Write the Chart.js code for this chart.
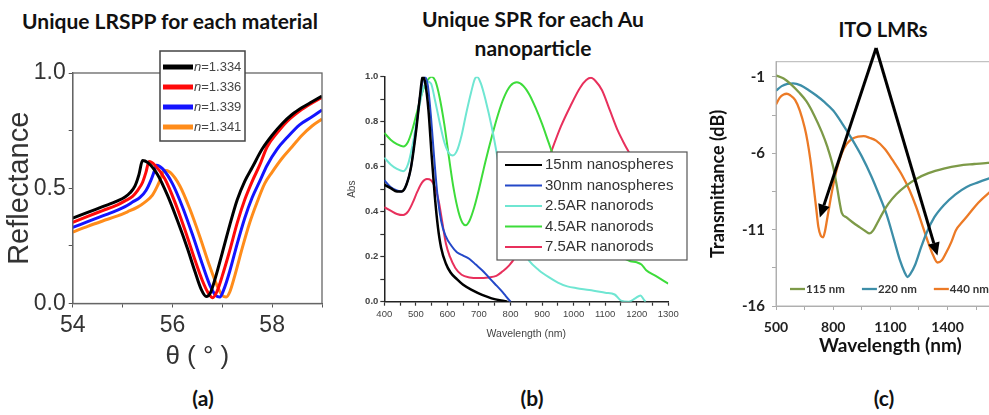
<!DOCTYPE html>
<html>
<head>
<meta charset="utf-8">
<script src="https://cdn.jsdelivr.net/npm/chart.js@4"></script>
<style>
  html, body { margin: 0; padding: 0; background: #fff; }
  body { width: 989px; height: 415px; position: relative; overflow: hidden; }
  canvas { position: absolute; }
  .head {
    position: absolute; transform: translateX(-50%);
    font-family: Lato, "Open Sans", sans-serif; font-weight: 700; font-size: 21px;
    color: #111; text-align: center; white-space: nowrap; line-height: 29px;
  }
</style>
</head>
<body>
<div class="head" style="left:170px; top:6px;">Unique LRSPP for each material</div>
<div class="head" style="left:533px; top:4px;">Unique SPR for each Au<br>nanoparticle</div>
<div class="head" style="left:883px; top:15px; font-size:20px;">ITO LMRs</div>
<div class="head" style="left:203px; top:383px;">(a)</div>
<div class="head" style="left:532px; top:383px;">(b)</div>
<div class="head" style="left:884px; top:383px;">(c)</div>

<canvas id="lrspp" width="335" height="345" style="left:0; top:40px;"></canvas>
<canvas id="spr" width="360" height="320" style="left:330px; top:40px;"></canvas>
<canvas id="lmr" width="340" height="330" style="left:690px; top:40px;"></canvas>

<script>
// ---- (a) LRSPP reflectance vs angle, one curve per refractive index ----
const N_LABELS = ["n=1.334", "n=1.336", "n=1.339", "n=1.341"];
const N_COLORS = ["#000000", "#ff0a0a", "#1414ff", "#ff8c1a"];

const refl1334 = [[54.0,0.370],[54.3,0.395],[54.6,0.420],[54.9,0.445],[55.05,0.462],[55.15,0.480],[55.25,0.510],[55.33,0.560],
  [55.4,0.620],[55.5,0.612],[55.7,0.560],[55.9,0.470],[56.1,0.360],[56.3,0.240],[56.45,0.140],[56.58,0.060],[56.68,0.030],
  [56.76,0.045],[56.86,0.110],[57.0,0.220],[57.15,0.340],[57.3,0.450],[57.45,0.530],[57.6,0.590],[57.8,0.670],[58.0,0.730],
  [58.2,0.780],[58.4,0.820],[58.6,0.850],[58.8,0.875],[59.0,0.900]];
const refl1336 = [[54.0,0.352],[54.3,0.378],[54.6,0.403],[54.9,0.428],[55.05,0.445],[55.2,0.465],[55.3,0.490],[55.4,0.525],
  [55.47,0.570],[55.53,0.616],[55.65,0.600],[55.85,0.540],[56.05,0.440],[56.25,0.320],[56.45,0.190],[56.6,0.100],[56.72,0.045],
  [56.81,0.025],[56.89,0.050],[57.0,0.120],[57.15,0.230],[57.3,0.350],[57.45,0.450],[57.6,0.530],[57.75,0.600],[57.9,0.680],
  [58.1,0.740],[58.3,0.790],[58.55,0.835],[58.8,0.870],[59.0,0.895]];
const refl1339 = [[54.0,0.330],[54.3,0.355],[54.6,0.380],[54.9,0.405],[55.05,0.420],[55.2,0.440],[55.35,0.460],[55.47,0.490],
  [55.57,0.535],[55.63,0.570],[55.68,0.600],[55.8,0.585],[56.0,0.520],[56.2,0.420],[56.4,0.300],[56.6,0.170],[56.75,0.080],
  [56.87,0.035],[56.95,0.028],[57.03,0.060],[57.15,0.140],[57.3,0.260],[57.45,0.370],[57.6,0.460],[57.75,0.530],[57.9,0.600],
  [58.1,0.670],[58.3,0.720],[58.55,0.775],[58.8,0.810],[59.0,0.840]];
const refl1341 = [[54.0,0.310],[54.3,0.335],[54.6,0.358],[54.9,0.380],[55.1,0.398],[55.3,0.418],[55.45,0.440],[55.6,0.470],
  [55.7,0.510],[55.77,0.545],[55.83,0.578],[55.95,0.570],[56.15,0.510],[56.35,0.410],[56.55,0.290],[56.75,0.160],[56.9,0.075],
  [57.0,0.035],[57.08,0.028],[57.15,0.050],[57.25,0.120],[57.4,0.240],[57.55,0.350],[57.7,0.440],[57.85,0.520],[58.0,0.570],
  [58.2,0.630],[58.4,0.680],[58.6,0.730],[58.8,0.770],[59.0,0.800]];

// ---- (b) absorbance spectra of Au nanoparticles ----
const SPR_LABELS = ["15nm nanospheres", "30nm nanospheres", "2.5AR nanorods", "4.5AR nanorods", "7.5AR nanorods"];
const SPR_COLORS = ["#000000", "#2448c8", "#6fe6d2", "#3ddc3a", "#e8305c"];

const abs15Sphere = [[400,0.52],[420,0.505],[440,0.49],[455,0.49],[470,0.52],[485,0.6],[500,0.75],[512,0.9],[522,1.0],
  [530,0.97],[540,0.85],[550,0.65],[560,0.47],[570,0.33],[580,0.24],[595,0.17],[610,0.13],[630,0.1],[650,0.075],[680,0.05],
  [710,0.03],[740,0.015],[770,0.005],[790,0]];
const abs30Sphere = [[400,0.54],[420,0.51],[440,0.495],[455,0.49],[470,0.52],[485,0.6],[500,0.76],[515,0.93],[528,1.0],
  [538,0.96],[548,0.82],[558,0.64],[568,0.48],[580,0.36],[595,0.29],[612,0.25],[630,0.22],[650,0.205],[670,0.19],[690,0.165],
  [710,0.14],[730,0.11],[750,0.08],[770,0.05],[785,0.025],[800,0]];
const abs25Rod = [[400,0.64],[420,0.61],[440,0.59],[460,0.58],[475,0.61],[490,0.7],[505,0.82],[520,0.93],[535,0.98],[548,0.97],
  [560,0.9],[575,0.8],[590,0.71],[605,0.66],[617,0.65],[630,0.67],[645,0.74],[660,0.84],[675,0.93],[687,0.99],[694,1.0],
  [706,0.97],[722,0.89],[740,0.78],[755,0.67],[770,0.55],[790,0.42],[810,0.33],[835,0.24],[860,0.18],[890,0.14],[920,0.11],
  [950,0.085],[980,0.068],[1010,0.06],[1050,0.052],[1100,0.04],[1130,0.032],[1150,0.005],[1175,0.0],[1195,0.015],[1212,0.028],
  [1222,0.01],[1228,0]];
const abs45Rod = [[400,0.75],[420,0.72],[440,0.7],[460,0.69],[475,0.71],[490,0.77],[505,0.85],[520,0.93],[535,0.98],[550,1.0],
  [562,0.98],[575,0.91],[590,0.79],[605,0.64],[620,0.5],[635,0.4],[648,0.35],[658,0.34],[670,0.36],[685,0.42],[700,0.5],
  [720,0.62],[740,0.73],[760,0.83],[780,0.91],[800,0.96],[820,0.975],[840,0.96],[860,0.92],[880,0.86],[900,0.79],[920,0.71],
  [940,0.63],[970,0.52],[1000,0.42],[1040,0.33],[1080,0.27],[1120,0.23],[1150,0.2],[1180,0.18],[1200,0.175],[1215,0.165],
  [1230,0.14],[1260,0.115],[1300,0.08]];
const abs75Rod = [[400,0.42],[420,0.405],[440,0.39],[460,0.385],[475,0.4],[490,0.44],[505,0.49],[520,0.53],[535,0.545],
  [548,0.54],[560,0.51],[572,0.45],[583,0.36],[595,0.26],[608,0.2],[625,0.15],[645,0.12],[670,0.108],[700,0.105],[730,0.108],
  [755,0.115],[775,0.135],[795,0.16],[815,0.2],[840,0.29],[870,0.42],[900,0.55],[930,0.67],[960,0.78],[990,0.87],[1020,0.95],
  [1040,0.985],[1055,0.995],[1070,0.98],[1090,0.94],[1115,0.85],[1140,0.76],[1165,0.69],[1180,0.65],[1200,0.57],[1220,0.48]];

// ---- (c) ITO lossy mode resonances, transmittance in dB ----
const LMR_LABELS = ["115 nm", "220 nm", "440 nm"];
const LMR_COLORS = ["#7d9a48", "#3d8ea8", "#ec7a26"];
const LMR_X_TICKS = [500, 650, 800, 950, 1100, 1250, 1400, 1550, 1700];
const LMR_Y_TICKS = [-16, -13.5, -11, -8.5, -6, -3.5, -1];

const trans115 = [[500,-0.9],[540,-1.1],[580,-1.5],[620,-2.0],[660,-2.6],[700,-3.5],[740,-4.6],[770,-5.6],[800,-6.9],
  [820,-8.2],[835,-9.3],[845,-9.9],[870,-10.2],[900,-10.5],[940,-10.85],[970,-11.1],[990,-11.25],[1010,-11.05],[1030,-10.6],
  [1060,-9.9],[1090,-9.3],[1130,-8.7],[1180,-8.15],[1240,-7.65],[1300,-7.3],[1380,-7.0],[1460,-6.8],[1540,-6.7],[1611,-6.62],
  [1700,-6.55]];
const trans220 = [[500,-1.9],[530,-1.6],[560,-1.45],[590,-1.42],[630,-1.55],[670,-1.85],[710,-2.2],[750,-2.6],[800,-3.2],
  [850,-4.1],[900,-5.1],[950,-6.2],[1000,-7.5],[1040,-8.7],[1080,-10.0],[1120,-11.7],[1150,-13.0],[1175,-13.8],[1190,-14.1],
  [1205,-13.9],[1230,-13.3],[1260,-12.2],[1290,-11.2],[1330,-10.2],[1380,-9.4],[1440,-8.7],[1500,-8.2],[1560,-7.9],
  [1611,-7.67],[1700,-7.3]];
const trans440 = [[500,-2.8],[520,-2.35],[540,-2.15],[556,-2.1],[575,-2.2],[600,-2.5],[625,-3.2],[650,-4.3],[665,-5.2],
  [680,-6.4],[695,-7.9],[710,-9.5],[722,-10.8],[735,-11.4],[747,-11.5],[757,-11.1],[767,-10.4],[782,-9.3],[800,-8.1],
  [820,-7.0],[845,-6.0],[870,-5.4],[900,-5.05],[930,-4.9],[960,-4.88],[990,-4.98],[1025,-5.17],[1070,-5.7],[1112,-6.45],
  [1160,-7.4],[1200,-8.4],[1235,-9.5],[1270,-10.8],[1300,-11.9],[1325,-12.7],[1347,-13.15],[1370,-13.0],[1391,-12.55],
  [1420,-11.8],[1443,-11.05],[1480,-10.45],[1513,-9.96],[1560,-9.25],[1611,-8.65],[1700,-7.8]];

// "ITO LMRs" arrows: common start point and the two resonance dips they point at
const ARROW_APEX = [1025, 0.9];
const ARROW_TIPS = [[730, -10.2], [1347, -12.7]];

Chart.defaults.animation = false;
Chart.defaults.responsive = false;
Chart.defaults.devicePixelRatio = 1;
Chart.defaults.plugins.legend.display = false;
Chart.defaults.plugins.tooltip.enabled = false;

function series(label, pairs, color, width) {
  return {
    label: label,
    data: pairs.map(([x, y]) => ({ x: x, y: y })),
    borderColor: color,
    backgroundColor: color,
    borderWidth: width,
    pointRadius: 0,
    fill: false,
    cubicInterpolationMode: "monotone"
  };
}

// box round the plot area
const framePlugin = {
  id: "frame",
  afterDatasetsDraw(chart, args, opts) {
    const { ctx, chartArea: a } = chart;
    ctx.save();
    ctx.strokeStyle = opts.color;
    ctx.lineWidth = opts.width;
    ctx.strokeRect(a.left, a.top, a.right - a.left, a.bottom - a.top);
    ctx.restore();
  }
};

// legend drawn at a fixed spot, optionally in a white box
const placedLegend = {
  id: "placedLegend",
  afterDraw(chart, args, o) {
    const ctx = chart.ctx;
    ctx.save();
    if (o.box) {
      const b = o.box;
      ctx.fillStyle = "#fff";
      ctx.fillRect(b[0], b[1], b[2] - b[0], b[3] - b[1]);
      ctx.strokeStyle = o.boxColor;
      ctx.lineWidth = o.boxWidth;
      ctx.strokeRect(b[0], b[1], b[2] - b[0], b[3] - b[1]);
    }
    let x = o.x, y = o.y;
    chart.data.datasets.forEach((ds) => {
      ctx.strokeStyle = ds.borderColor;
      ctx.lineWidth = o.lineWidth;
      ctx.beginPath();
      ctx.moveTo(x, y);
      ctx.lineTo(x + o.sample, y);
      ctx.stroke();
      ctx.fillStyle = o.color;
      ctx.textBaseline = "middle";
      let tx = x + o.sample + o.gap;
      let text = ds.label;
      if (o.italicLead) {
        ctx.font = "italic " + o.font;
        ctx.fillText(text[0], tx, y);
        tx += ctx.measureText(text[0]).width;
        text = text.slice(1);
      }
      ctx.font = o.font;
      ctx.fillText(text, tx, y);
      tx += ctx.measureText(text).width;
      if (o.horizontal) x = tx + o.spacing;
      else y += o.rowGap;
    });
    ctx.restore();
  }
};

// arrows drawn in data coordinates
const arrowPlugin = {
  id: "arrows",
  afterDatasetsDraw(chart) {
    const { ctx, scales } = chart;
    const ax = scales.x.getPixelForValue(ARROW_APEX[0]);
    const ay = scales.y.getPixelForValue(ARROW_APEX[1]);
    ctx.save();
    ctx.strokeStyle = "#000";
    ctx.fillStyle = "#000";
    ctx.lineWidth = 3;
    ARROW_TIPS.forEach(([tx, ty]) => {
      const px = scales.x.getPixelForValue(tx);
      const py = scales.y.getPixelForValue(ty);
      const ang = Math.atan2(py - ay, px - ax);
      const head = 13, half = 6;
      const bx = px - head * Math.cos(ang), by = py - head * Math.sin(ang);
      ctx.beginPath();
      ctx.moveTo(ax, ay);
      ctx.lineTo(bx, by);
      ctx.stroke();
      ctx.beginPath();
      ctx.moveTo(px, py);
      ctx.lineTo(bx + half * Math.sin(ang), by - half * Math.cos(ang));
      ctx.lineTo(bx - half * Math.sin(ang), by + half * Math.cos(ang));
      ctx.closePath();
      ctx.fill();
    });
    ctx.restore();
  }
};

// (a)
new Chart(document.getElementById("lrspp"), {
  type: "line",
  data: {
    datasets: [
      series(N_LABELS[0], refl1334, N_COLORS[0], 3),
      series(N_LABELS[1], refl1336, N_COLORS[1], 3),
      series(N_LABELS[2], refl1339, N_COLORS[2], 3),
      series(N_LABELS[3], refl1341, N_COLORS[3], 3)
    ]
  },
  options: {
    layout: { padding: { left: 0, top: 33, right: 13, bottom: 0 } },
    scales: {
      x: {
        type: "linear", min: 54, max: 59,
        afterFit(scale) { scale.height = 81.5; },
        ticks: {
          stepSize: 1, autoSkip: false, maxRotation: 0, padding: 4,
          color: "#333", font: { family: "Liberation Sans", size: 23 },
          callback: (v) => (v % 2 === 0 ? v : "")
        },
        grid: { drawOnChartArea: false, tickLength: 4, tickColor: "#555" },
        border: { color: "#555", width: 1.3 },
        title: {
          display: true, text: "θ ( ° )", color: "#333",
          font: { family: "Liberation Sans", size: 26 }, padding: { top: 0, bottom: 13 }
        }
      },
      y: {
        min: 0, max: 1,
        afterFit(scale) { scale.width = 72.7; },
        ticks: {
          stepSize: 0.25, autoSkip: false, padding: 3,
          color: "#333", font: { family: "Liberation Sans", size: 23 },
          callback: (v) => (Math.round(v * 100) % 50 === 0 ? v.toFixed(1) : "")
        },
        grid: { drawOnChartArea: false, tickLength: 4, tickColor: "#555" },
        border: { color: "#555", width: 1.3 },
        title: {
          display: true, text: "Reflectance", color: "#333",
          font: { family: "Liberation Sans", size: 29 }, padding: { top: 3, bottom: 0 }
        }
      }
    },
    plugins: {
      frame: { color: "#666", width: 1.3 },
      placedLegend: {
        box: [160, 11, 245, 101], boxColor: "#444", boxWidth: 1.5,
        x: 163, y: 27, rowGap: 20, sample: 30, gap: 1, lineWidth: 5,
        font: "13px 'Liberation Sans'", color: "#444", italicLead: true
      }
    }
  },
  plugins: [framePlugin, placedLegend]
});

// (b)
new Chart(document.getElementById("spr"), {
  type: "line",
  data: {
    datasets: [
      series(SPR_LABELS[0], abs15Sphere, SPR_COLORS[0], 2.5),
      series(SPR_LABELS[1], abs30Sphere, SPR_COLORS[1], 2),
      series(SPR_LABELS[2], abs25Rod, SPR_COLORS[2], 2),
      series(SPR_LABELS[3], abs45Rod, SPR_COLORS[3], 2),
      series(SPR_LABELS[4], abs75Rod, SPR_COLORS[4], 2)
    ]
  },
  options: {
    layout: { padding: { left: 0, top: 36.7, right: 21.7, bottom: 0 } },
    scales: {
      x: {
        type: "linear", min: 400, max: 1300,
        afterFit(scale) { scale.height = 58.3; },
        ticks: {
          stepSize: 50, autoSkip: false, maxRotation: 0, padding: 3,
          color: "#444", font: { family: "Liberation Sans", size: 9.5 },
          callback: (v) => (v % 100 === 0 ? v : "")
        },
        grid: { drawOnChartArea: false, tickLength: 4, tickColor: "#333", tickWidth: 1.2 },
        border: { color: "#222", width: 1.5 },
        title: {
          display: true, text: "Wavelength (nm)", color: "#444",
          font: { family: "Liberation Sans", size: 10.5 }, padding: { top: 0, bottom: 20 }
        }
      },
      y: {
        min: 0, max: 1,
        afterFit(scale) { scale.width = 54.3; },
        ticks: {
          stepSize: 0.1, autoSkip: false, padding: 2,
          color: "#444", font: { family: "Liberation Sans", size: 9.5, weight: "bold" },
          callback: (v) => (Math.round(v * 10) % 2 === 0 ? v.toFixed(1) : "")
        },
        grid: { drawOnChartArea: false, tickLength: 4, tickColor: "#333", tickWidth: 1.2 },
        border: { color: "#222", width: 1.5 },
        title: {
          display: true, text: "Abs", color: "#444",
          font: { family: "Liberation Sans", size: 10 }, padding: { top: 16, bottom: 0 }
        }
      }
    },
    plugins: {
      placedLegend: {
        box: [167, 112, 357, 220], boxColor: "#555", boxWidth: 1.2,
        x: 175, y: 125, rowGap: 20.5, sample: 37, gap: 3, lineWidth: 2,
        font: "15px 'Liberation Sans'", color: "#333"
      }
    }
  },
  plugins: [placedLegend]
});

// (c)
const lmrFont = { family: "Lato", weight: "bold" };
new Chart(document.getElementById("lmr"), {
  type: "line",
  data: {
    datasets: [
      series(LMR_LABELS[0], trans115, LMR_COLORS[0], 2.3),
      series(LMR_LABELS[1], trans220, LMR_COLORS[1], 2.3),
      series(LMR_LABELS[2], trans440, LMR_COLORS[2], 2.3)
    ]
  },
  options: {
    layout: { padding: { left: 0, top: 21.7, right: 24, bottom: 0 } },
    scales: {
      x: {
        type: "linear", min: 500, max: 1700,
        afterFit(scale) { scale.height = 64; },
        afterBuildTicks(scale) { scale.ticks = LMR_X_TICKS.map((v) => ({ value: v })); },
        ticks: {
          autoSkip: false, maxRotation: 0, padding: 9,
          color: "#222", font: { ...lmrFont, size: 14 },
          callback: (v) => ((v - 500) % 300 === 0 ? v : "")
        },
        grid: { drawOnChartArea: false, tickLength: 4, tickColor: "#aaa" },
        border: { color: "#aaa", width: 1 },
        title: {
          display: true, text: "Wavelength (nm)", color: "#111",
          font: { ...lmrFont, size: 19 }, padding: { top: 0, bottom: 13 }
        }
      },
      y: {
        min: -16, max: 0,
        afterFit(scale) { scale.width = 86; },
        afterBuildTicks(scale) { scale.ticks = LMR_Y_TICKS.map((v) => ({ value: v })); },
        ticks: {
          autoSkip: false, padding: 7,
          color: "#222", font: { ...lmrFont, size: 15 },
          callback: (v) => (Number.isInteger(v) ? v : "")
        },
        grid: { drawOnChartArea: false, tickLength: 4, tickColor: "#aaa" },
        border: { color: "#aaa", width: 1 },
        title: {
          display: true, text: "Transmittance (dB)", color: "#111",
          font: { ...lmrFont, size: 18 }, padding: { top: 17, bottom: 0 }
        }
      }
    },
    plugins: {
      frame: { color: "#b4b4b4", width: 1 },
      placedLegend: {
        x: 100, y: 249, sample: 15, gap: 1, spacing: 17, lineWidth: 2.3, horizontal: true,
        font: "bold 11.5px Lato", color: "#333"
      }
    }
  },
  plugins: [framePlugin, arrowPlugin, placedLegend]
});
</script>
</body>
</html>
